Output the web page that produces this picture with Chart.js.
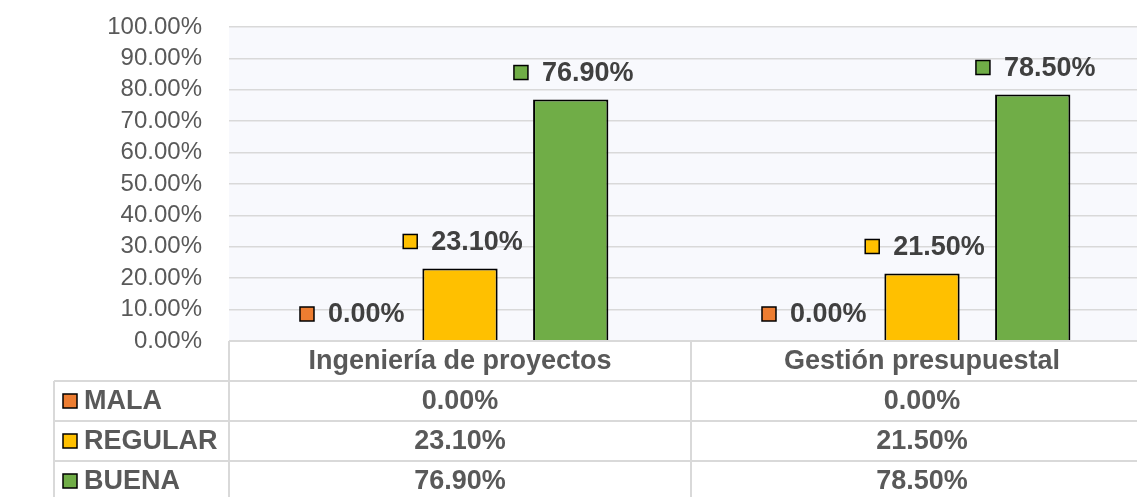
<!DOCTYPE html>
<html>
<head>
<meta charset="utf-8">
<script src="https://cdn.jsdelivr.net/npm/chart.js@4"></script>
<style>
  html, body { margin: 0; padding: 0; background: #fff; overflow: hidden; }
  #wrap { width: 1153px; height: 497px; position: relative; }
</style>
</head>
<body>
<div id="wrap"><canvas id="chart"></canvas></div>
<script>
// chart data
const categories = ["Ingeniería de proyectos", "Gestión presupuestal"];
const seriesNames = ["MALA", "REGULAR", "BUENA"];
const mala = [0, 0];
const regular = [23.1, 21.5];
const buena = [76.9, 78.5];
const yMin = 0;
const yMax = 100;
const yStep = 10;

const colors = ["#ED7D31", "#FFC000", "#70AD47"];
const FONT = "'Liberation Sans', Arial, sans-serif";
const pct = (v) => v.toFixed(2) + "%";

// light plot background
const plotBg = {
  id: "plotBg",
  beforeDraw(chart) {
    const a = chart.chartArea;
    const ctx = chart.ctx;
    ctx.save();
    ctx.fillStyle = "#F8F9FD";
    ctx.fillRect(a.left, a.top, a.right - a.left, a.bottom - a.top);
    ctx.restore();
  },
};

function drawMarker(ctx, x, y, size, color) {
  ctx.fillStyle = color;
  ctx.fillRect(x, y, size, size);
  ctx.strokeStyle = "#000";
  ctx.lineWidth = 1.5;
  ctx.strokeRect(x, y, size, size);
}

// labels above bars: marker + value
const barLabels = {
  id: "barLabels",
  afterDatasetsDraw(chart) {
    const ctx = chart.ctx;
    ctx.save();
    ctx.font = "bold 27px " + FONT;
    ctx.textBaseline = "middle";
    ctx.textAlign = "left";
    chart.data.datasets.forEach((ds, i) => {
      const meta = chart.getDatasetMeta(i);
      meta.data.forEach((bar, j) => {
        const txt = pct(ds.data[j]);
        const tw = ctx.measureText(txt).width;
        const total = 15 + 13 + tw;
        const cx = bar.x + 3;
        const cy = bar.y - 27;
        const x0 = cx - total / 2;
        drawMarker(ctx, x0, cy - 7, 14, colors[i]);
        ctx.fillStyle = "#404040";
        ctx.fillText(txt, x0 + 28, cy + 1);
      });
    });
    ctx.restore();
  },
};

// data table under the plot
const dataTable = {
  id: "dataTable",
  afterDraw(chart) {
    const ctx = chart.ctx;
    const a = chart.chartArea;
    const xs = chart.scales.x;
    const rowH = 40;
    const tableLeft = 54;
    const right = chart.width;
    const mid = (xs.getPixelForValue(0) + xs.getPixelForValue(1)) / 2;
    const top = a.bottom;
    const bottom = chart.height;

    ctx.save();
    ctx.strokeStyle = "#D9D9D9";
    ctx.lineWidth = 2;
    ctx.beginPath();
    ctx.moveTo(a.left, top); ctx.lineTo(right, top);
    for (let r = 1; r <= 3; r++) {
      ctx.moveTo(tableLeft, top + r * rowH); ctx.lineTo(right, top + r * rowH);
    }
    ctx.moveTo(a.left, top); ctx.lineTo(a.left, bottom);
    ctx.moveTo(mid, top); ctx.lineTo(mid, bottom);
    ctx.moveTo(tableLeft, top + rowH); ctx.lineTo(tableLeft, bottom);
    ctx.stroke();

    ctx.font = "bold 27px " + FONT;
    ctx.fillStyle = "#595959";
    ctx.textBaseline = "middle";
    ctx.textAlign = "center";
    const colCenters = [(a.left + mid) / 2, (mid + right) / 2];
    categories.forEach((c, j) => ctx.fillText(c, colCenters[j], top + rowH / 2 + 1));

    chart.data.datasets.forEach((ds, i) => {
      const cy = top + (i + 1) * rowH + rowH / 2;
      drawMarker(ctx, 63, cy - 7, 14, colors[i]);
      ctx.fillStyle = "#595959";
      ctx.textAlign = "left";
      ctx.fillText(seriesNames[i], 84, cy + 1);
      ctx.textAlign = "center";
      ds.data.forEach((v, j) => ctx.fillText(pct(v), colCenters[j], cy + 1));
    });
    ctx.restore();
  },
};

const seriesValues = [mala, regular, buena];

new Chart(document.getElementById("chart"), {
  type: "bar",
  data: {
    labels: categories,
    datasets: seriesNames.map((name, i) => ({
      label: name,
      data: seriesValues[i],
      backgroundColor: colors[i],
      borderColor: "#000",
      borderWidth: (c) => (c.raw === 0 ? 0 : 2),
      borderSkipped: "bottom",
      categoryPercentage: 0.719,
      barPercentage: 0.68,
    })),
  },
  options: {
    responsive: true,
    maintainAspectRatio: false,
    animation: false,
    layout: { padding: { top: 27, right: 0, left: 0, bottom: 0 } },
    plugins: {
      legend: { display: false },
      tooltip: { enabled: false },
    },
    scales: {
      x: {
        grid: { display: false },
        border: { display: false },
        ticks: { display: false },
        afterFit: (s) => { s.height = 156; },
      },
      y: {
        min: yMin,
        max: yMax,
        border: { display: false },
        grid: { color: "#D9D9D9", lineWidth: 1.5, drawTicks: false },
        ticks: {
          stepSize: yStep,
          autoSkip: false,
          padding: 27,
          color: "#595959",
          font: { family: FONT, size: 24 },
          callback: (v) => pct(v),
        },
        afterFit: (s) => {
          s.width = 229;
          s.paddingTop = 0;
          s.paddingBottom = 0;
        },
      },
    },
  },
  plugins: [plotBg, barLabels, dataTable],
});
</script>
</body>
</html>
